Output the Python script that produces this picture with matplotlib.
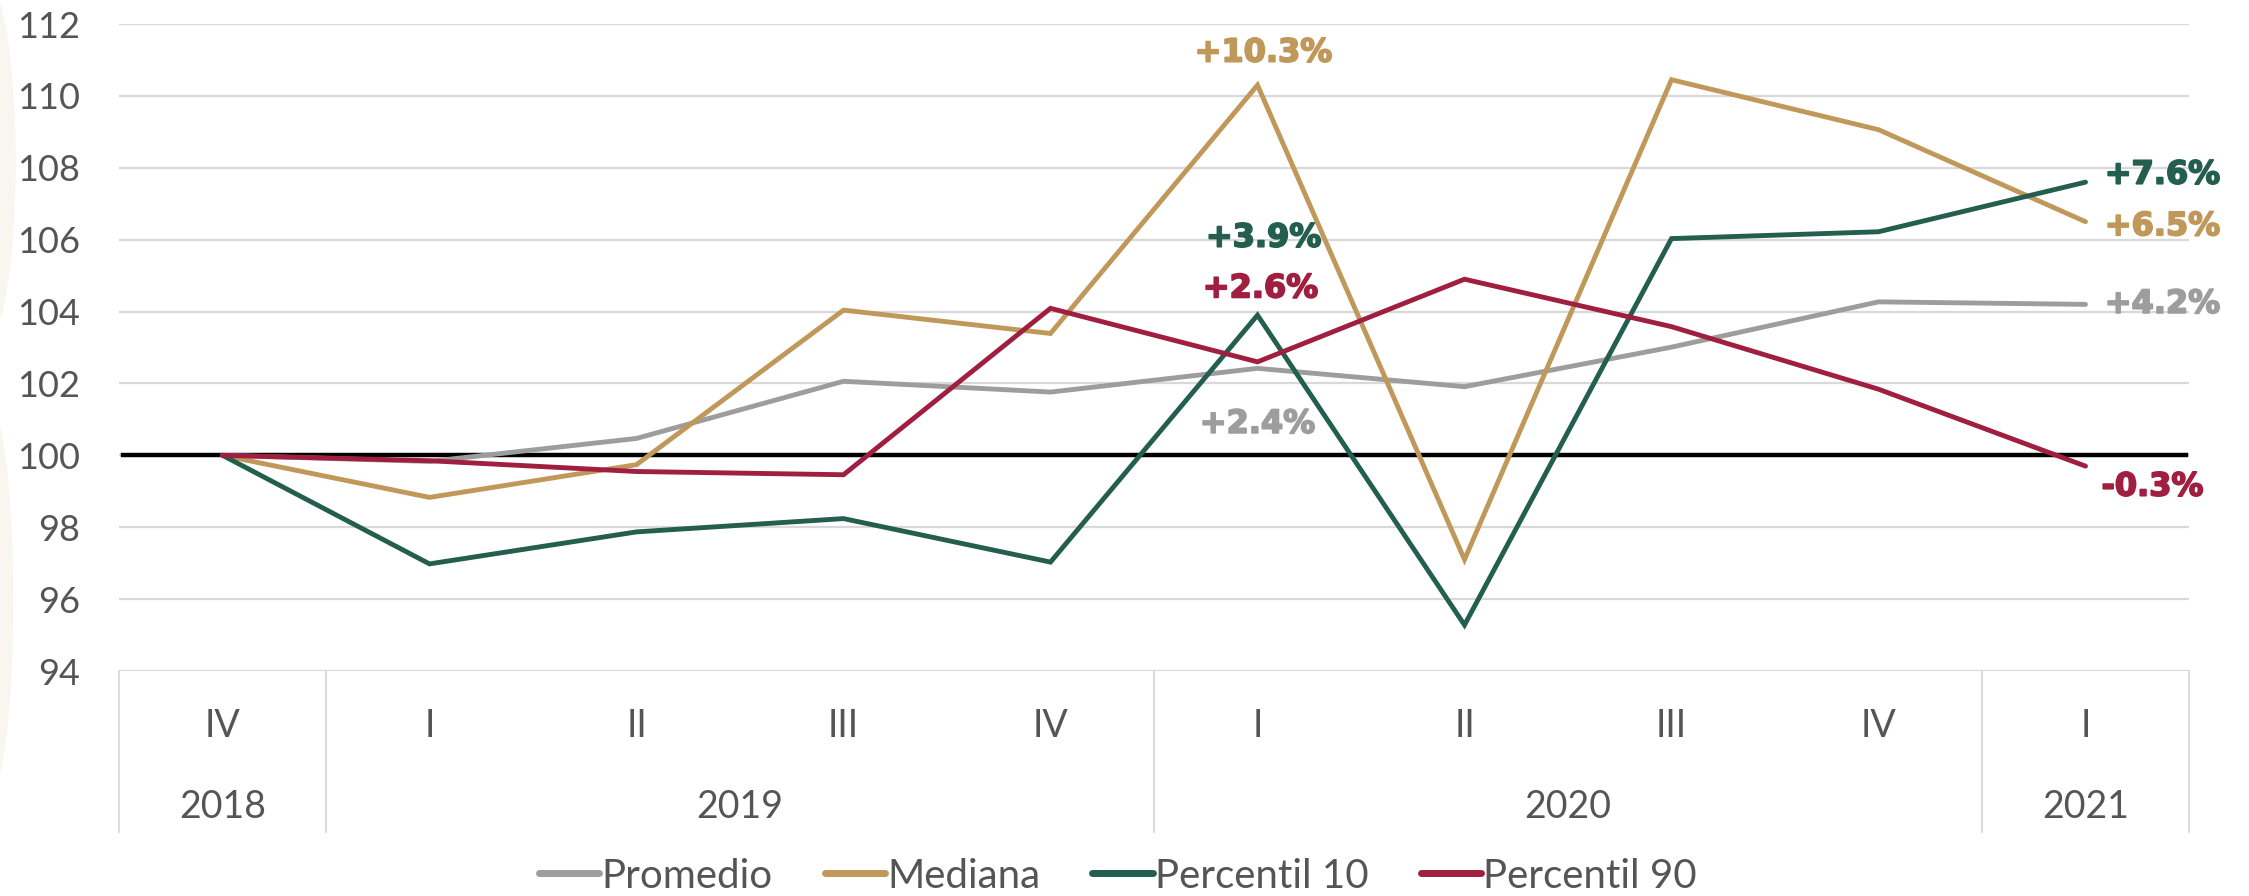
import matplotlib
matplotlib.use('Agg')
import matplotlib.pyplot as plt
import matplotlib.transforms as mtransforms
import matplotlib.patheffects as pe
from matplotlib.patches import Ellipse

# Datos del índice (2018 IV = 100)
trimestres = ['IV', 'I', 'II', 'III', 'IV', 'I', 'II', 'III', 'IV', 'I']
anios = ['2018', '2019', '2020', '2021']
promedio = [100, 99.83, 100.47, 102.06, 101.76, 102.42, 101.91, 103.01, 104.27, 104.2]
mediana = [100, 98.83, 99.74, 104.04, 103.39, 110.3, 97.1, 110.45, 109.06, 106.5]
percentil_10 = [100, 96.98, 97.87, 98.24, 97.03, 103.9, 95.28, 106.03, 106.22, 107.6]
percentil_90 = [100, 99.85, 99.55, 99.46, 104.09, 102.6, 104.9, 103.58, 101.84, 99.7]

GRIS = '#9e9d9e'
ORO = '#c0985a'
VERDE = '#235e4e'
ROJO = '#a01f41'
TXT = '#555555'

fig = plt.figure(figsize=(22.49, 8.96), dpi=100)

# marca de agua tenue en el borde izquierdo
for cx, cy, w, h in [(-0.006, 0.82, 0.026, 0.40), (-0.006, 0.33, 0.024, 0.45)]:
    fig.patches.append(Ellipse((cx, cy), w, h, transform=fig.transFigure,
                               facecolor='#f9f6f0', edgecolor='none', zorder=0))

ax = fig.add_axes([119 / 2249, 1 - 671 / 896, (2189 - 119) / 2249, (671 - 24) / 896])
ax.patch.set_alpha(0)

x = list(range(len(trimestres)))
series = [('Promedio', promedio, GRIS), ('Mediana', mediana, ORO),
          ('Percentil 10', percentil_10, VERDE), ('Percentil 90', percentil_90, ROJO)]
for nombre, valores, color in series:
    ax.plot(x, valores, color=color, lw=3.5, label=nombre,
            solid_capstyle='round', solid_joinstyle='miter', zorder=3)

ax.axhline(100, xmin=0.002, xmax=0.9985, color='black', lw=3.2, zorder=2)

ax.set_xlim(-0.5, len(trimestres) - 0.5)
ax.set_ylim(94, 112)
ax.set_yticks(range(94, 113, 2))
ax.yaxis.grid(True, color='#d9d9d9', lw=1.6)
ax.set_axisbelow(True)
for s in ax.spines.values():
    s.set_visible(False)
ax.tick_params(axis='y', length=0, pad=28, labelsize=26, labelcolor=TXT)
for lbl in ax.get_yticklabels():
    lbl.set_fontfamily('Lato')
ax.set_xticks([])

# eje de categorías con dos niveles
tr = mtransforms.blended_transform_factory(ax.transData, ax.transAxes)
for b in [-0.5, 0.5, 4.5, 8.5, 9.5]:
    ax.plot([b, b], [0, -0.249], transform=tr, color='#d9d9d9', lw=1.3, clip_on=False)
for i, t in enumerate(trimestres):
    ax.text(i, -0.085, t, transform=tr, ha='center', va='center',
            fontsize=27, color=TXT, family='Lato')
for pos, a in zip([0, 2.5, 6.5, 9], anios):
    ax.text(pos, -0.21, a, transform=tr, ha='center', va='center',
            fontsize=27, color=TXT, family='Lato')

# etiquetas de variación
def etiqueta(i, valores, color, dx, dy):
    v = valores[i] - 100
    ax.annotate(f'{v:+.1f}%', (i, valores[i]), xytext=(dx, dy), textcoords='offset pixels',
                ha='center', va='center', fontsize=23, fontweight='bold', color=color,
                family='DejaVu Sans', zorder=4,
                path_effects=[pe.withStroke(linewidth=1.3, foreground=color)])

etiqueta(5, mediana, ORO, 6, 32)
etiqueta(5, percentil_10, VERDE, 6, 77)
etiqueta(5, percentil_90, ROJO, 3, 73)
etiqueta(5, promedio, GRIS, 0, -56)
etiqueta(9, percentil_10, VERDE, 77, 7)
etiqueta(9, mediana, ORO, 77, -5)
etiqueta(9, promedio, GRIS, 77, 0)
etiqueta(9, percentil_90, ROJO, 67, -21)

leg = fig.legend(loc='center', bbox_to_anchor=(0.497, 1 - 876 / 896), ncol=4, frameon=False,
                 handlelength=1.5, handletextpad=0.05, columnspacing=1.3,
                 prop={'family': 'Lato', 'size': 29})
for t in leg.get_texts():
    t.set_color(TXT)
for h in leg.get_lines():
    h.set_linewidth(5)

fig.savefig('out.png', dpi=100)
